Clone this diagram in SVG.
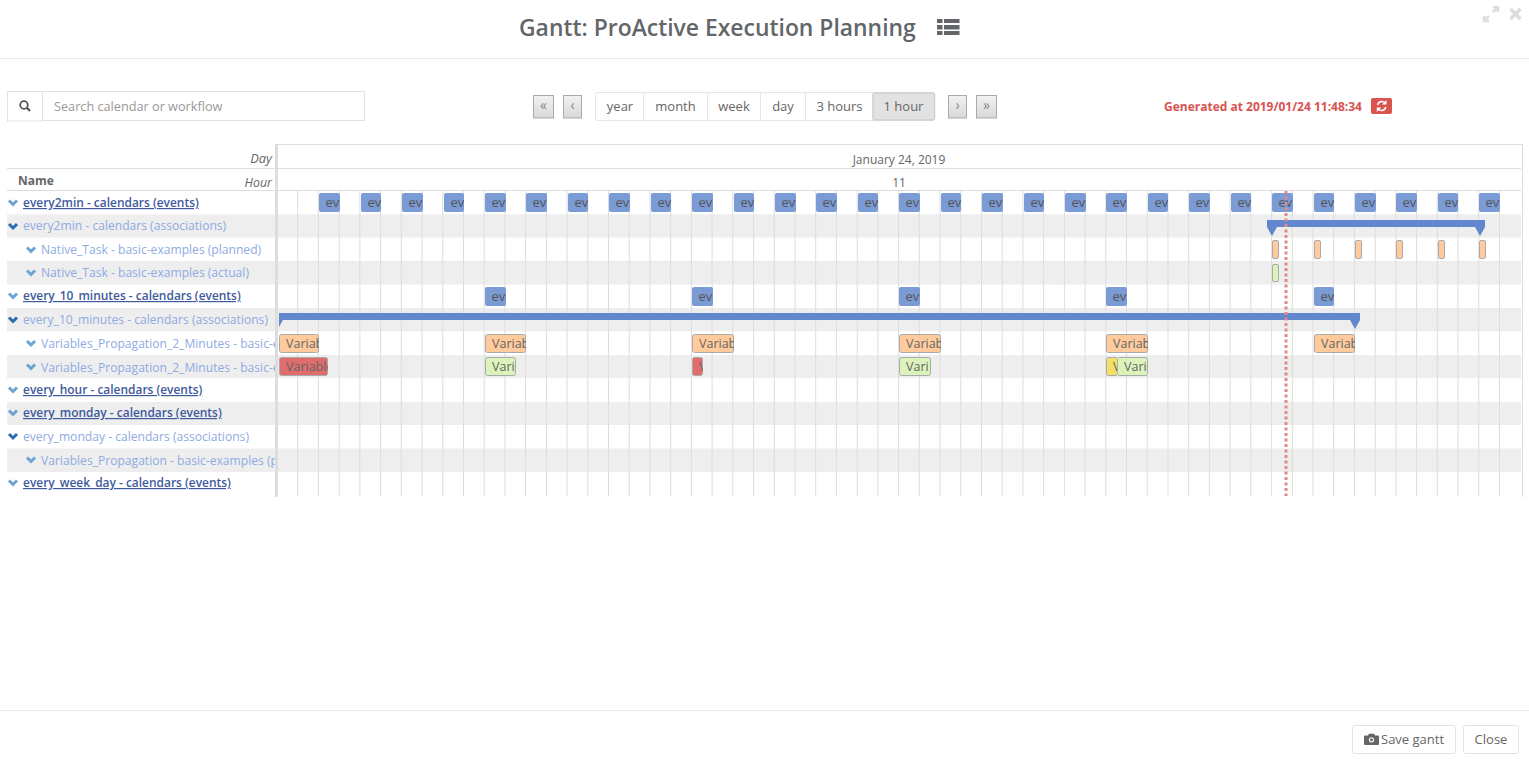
<svg xmlns="http://www.w3.org/2000/svg" width="1529" height="763" viewBox="0 0 1529 763">
<style>
text{font-family:"Open Sans","Noto Sans","Liberation Sans",sans-serif;fill:#666;font-size:13px}
.zebra{fill:#eee}
.grid line{stroke:#ddd;stroke-width:1}
.hl{stroke:#ddd;stroke-width:1;fill:none}
.link{fill:#3e5a9c;font-weight:600;text-decoration:underline;font-size:11.95px}
.assoc{fill:#8fabe3;font-size:12.1px}
.chevL{fill:none;stroke:#6da3d0;stroke-width:3}
.chevD{fill:none;stroke:#2b6cb0;stroke-width:3}
.ev{fill:#7b9bd6}
.evt{fill:#555;font-size:13px}
.bt{font-size:12.5px;fill:#666}
.plan{fill:#ffcb9c;stroke:#aaa;stroke-width:1}
.act{fill:#dbf3ba;stroke:#aaa;stroke-width:1}
.red{fill:#e06c6c;stroke:#aaa;stroke-width:1}
.yel{fill:#f0e064;stroke:#aaa;stroke-width:1}
.sum{fill:#6287cf}
.navb{fill:url(#navg);stroke:#aaa;stroke-width:1}
.navt{fill:#888;font-size:14px;text-anchor:middle}
.seg{fill:#fff;stroke:#e6e6e6;stroke-width:1}
.segt{text-anchor:middle;font-size:13px}
.btn{fill:#fff;stroke:#e2e2e2;stroke-width:1}
</style>
<defs>
<linearGradient id="navg" x1="0" y1="0" x2="0" y2="1"><stop offset="0" stop-color="#f2f2f2"/><stop offset="1" stop-color="#d8d8d8"/></linearGradient>
</defs>
<rect width="1529" height="763" fill="#fff"/>

<g id="header">
<text x="519" y="36" style="font-size:22.9px;font-weight:600;fill:#636669">Gantt: ProActive Execution Planning</text>
<g fill="#636669"><rect x="937" y="19" width="5.500" height="4"/><rect x="944" y="19" width="15.500" height="4"/><rect x="937" y="25" width="5.500" height="4.500"/><rect x="944" y="25" width="15.500" height="4.500"/><rect x="937" y="31" width="5.500" height="4"/><rect x="944" y="31" width="15.500" height="4"/></g>
<path d="M1484 21l5-5M1493 12l5-5M1484 16v5h5M1493 7h5v5" fill="none" stroke="#ddd" stroke-width="2.600"/>
<path d="M1510.500 9l10 10M1520.500 9l-10 10" fill="none" stroke="#ddd" stroke-width="3.600"/>
<line x1="0" y1="58.500" x2="1529" y2="58.500" stroke="#e8e8e8"/>
</g>

<g id="search">
<rect class="btn" x="7.500" y="91.500" width="35" height="29.500"/>
<rect class="btn" x="42.500" y="91.500" width="322" height="29"/>
<circle cx="24" cy="105" r="3.800" fill="none" stroke="#555" stroke-width="1.800"/>
<line x1="26.800" y1="107.800" x2="30" y2="111" stroke="#555" stroke-width="2.200"/>
<text x="54" y="111" style="fill:#999;font-size:12.700px">Search calendar or workflow</text>
</g>

<g id="nav">
<rect class="navb" x="533.500" y="95.500" width="20" height="22.500"/><text class="navt" x="543.500" y="110">«</text>
<rect class="navb" x="563.500" y="95.500" width="18" height="22.500"/><text class="navt" x="572.500" y="110">‹</text>
<rect class="seg" x="595.500" y="92.500" width="339" height="28" rx="2"/>
<rect x="873" y="93" width="61.500" height="27" fill="#e2e2e2" stroke="#d0d0d0" stroke-width="1.500" rx="2"/>
<path d="M643.500 93v27M707.500 93v27M760.500 93v27M805.500 93v27" stroke="#e6e6e6"/>
<text class="segt" x="620" y="111">year</text>
<text class="segt" x="675.500" y="111">month</text>
<text class="segt" x="734" y="111">week</text>
<text class="segt" x="783" y="111">day</text>
<text class="segt" x="839.500" y="111">3 hours</text>
<text class="segt" x="903.500" y="111">1 hour</text>
<rect class="navb" x="948.500" y="95.500" width="18" height="22.500"/><text class="navt" x="957.500" y="110">›</text>
<rect class="navb" x="976.500" y="95.500" width="20" height="22.500"/><text class="navt" x="986.500" y="110">»</text>
</g>

<g id="generated">
<text x="1164" y="111" style="fill:#d9534f;font-weight:700;font-size:12px">Generated at 2019/01/24 11:48:34</text>
<rect x="1371" y="98" width="21" height="16" rx="2" fill="#d9534f"/>
<path d="M1377.500 105a4.300 4.300 0 0 1 7.500-2M1385.800 107a4.300 4.300 0 0 1-7.500 2" fill="none" stroke="#fff" stroke-width="1.600"/>
<path d="M1386.500 100v4.500h-4.500zM1376.800 112v-4.500h4.500z" fill="#fff"/>
</g>

<g id="rows">
<rect class="zebra" x="7" y="214.300" width="1514" height="23.300"/>
<rect class="zebra" x="7" y="261" width="1514" height="23.500"/>
<rect class="zebra" x="7" y="308" width="1514" height="23.300"/>
<rect class="zebra" x="7" y="355" width="1514" height="23"/>
<rect class="zebra" x="7" y="402" width="1514" height="23"/>
<rect class="zebra" x="7" y="448.500" width="1514" height="23.500"/>
</g>

<g id="grid" class="grid">
<line x1="297.700" y1="191" x2="297.700" y2="496"/><line x1="318.400" y1="191" x2="318.400" y2="496"/><line x1="339.200" y1="191" x2="339.200" y2="496"/><line x1="359.900" y1="191" x2="359.900" y2="496"/><line x1="380.600" y1="191" x2="380.600" y2="496"/><line x1="401.300" y1="191" x2="401.300" y2="496"/><line x1="422" y1="191" x2="422" y2="496"/><line x1="442.800" y1="191" x2="442.800" y2="496"/><line x1="463.500" y1="191" x2="463.500" y2="496"/><line x1="484.200" y1="191" x2="484.200" y2="496"/>
<line x1="504.900" y1="191" x2="504.900" y2="496"/><line x1="525.600" y1="191" x2="525.600" y2="496"/><line x1="546.400" y1="191" x2="546.400" y2="496"/><line x1="567.100" y1="191" x2="567.100" y2="496"/><line x1="587.800" y1="191" x2="587.800" y2="496"/><line x1="608.500" y1="191" x2="608.500" y2="496"/><line x1="629.200" y1="191" x2="629.200" y2="496"/><line x1="650" y1="191" x2="650" y2="496"/><line x1="670.700" y1="191" x2="670.700" y2="496"/><line x1="691.400" y1="191" x2="691.400" y2="496"/>
<line x1="712.100" y1="191" x2="712.100" y2="496"/><line x1="732.800" y1="191" x2="732.800" y2="496"/><line x1="753.600" y1="191" x2="753.600" y2="496"/><line x1="774.300" y1="191" x2="774.300" y2="496"/><line x1="795" y1="191" x2="795" y2="496"/><line x1="815.700" y1="191" x2="815.700" y2="496"/><line x1="836.400" y1="191" x2="836.400" y2="496"/><line x1="857.200" y1="191" x2="857.200" y2="496"/><line x1="877.900" y1="191" x2="877.900" y2="496"/><line x1="898.600" y1="191" x2="898.600" y2="496"/>
<line x1="919.300" y1="191" x2="919.300" y2="496"/><line x1="940" y1="191" x2="940" y2="496"/><line x1="960.800" y1="191" x2="960.800" y2="496"/><line x1="981.500" y1="191" x2="981.500" y2="496"/><line x1="1002.200" y1="191" x2="1002.200" y2="496"/><line x1="1022.900" y1="191" x2="1022.900" y2="496"/><line x1="1043.600" y1="191" x2="1043.600" y2="496"/><line x1="1064.400" y1="191" x2="1064.400" y2="496"/><line x1="1085.100" y1="191" x2="1085.100" y2="496"/><line x1="1105.800" y1="191" x2="1105.800" y2="496"/>
<line x1="1126.500" y1="191" x2="1126.500" y2="496"/><line x1="1147.200" y1="191" x2="1147.200" y2="496"/><line x1="1168" y1="191" x2="1168" y2="496"/><line x1="1188.700" y1="191" x2="1188.700" y2="496"/><line x1="1209.400" y1="191" x2="1209.400" y2="496"/><line x1="1230.100" y1="191" x2="1230.100" y2="496"/><line x1="1250.800" y1="191" x2="1250.800" y2="496"/><line x1="1271.600" y1="191" x2="1271.600" y2="496"/><line x1="1292.300" y1="191" x2="1292.300" y2="496"/><line x1="1313" y1="191" x2="1313" y2="496"/>
<line x1="1333.700" y1="191" x2="1333.700" y2="496"/><line x1="1354.400" y1="191" x2="1354.400" y2="496"/><line x1="1375.200" y1="191" x2="1375.200" y2="496"/><line x1="1395.900" y1="191" x2="1395.900" y2="496"/><line x1="1416.600" y1="191" x2="1416.600" y2="496"/><line x1="1437.300" y1="191" x2="1437.300" y2="496"/><line x1="1458" y1="191" x2="1458" y2="496"/><line x1="1478.800" y1="191" x2="1478.800" y2="496"/><line x1="1499.500" y1="191" x2="1499.500" y2="496"/>
</g>

<g id="table-head">
<rect x="275" y="144" width="3" height="353" fill="#ddd"/>
<path class="hl" d="M278 144.500H1522.500V497M278 168.500H1521M7 168.500H275M7 190.500H1521"/>
<text x="272" y="163" text-anchor="end" style="font-style:italic;font-size:12.800px">Day</text>
<text x="272" y="186.500" text-anchor="end" style="font-style:italic;font-size:12.400px">Hour</text>
<text x="18" y="185" style="font-weight:700;font-size:12px">Name</text>
<text x="899" y="163.500" text-anchor="middle" style="font-size:12px">January 24, 2019</text>
<text x="899" y="187" text-anchor="middle" style="font-size:12px">11</text>
</g>

<g id="row-labels">
<path class="chevL" d="M9 200.500l4 4 4-4M9 293.500l4 4 4-4M9 387.500l4 4 4-4M9 410.500l4 4 4-4M9 480.500l4 4 4-4"/>
<path class="chevD" d="M9 224l4 4 4-4M9 317.500l4 4 4-4M9 434l4 4 4-4"/>
<path class="chevL" d="M27 247.500l4 4 4-4M27 270.500l4 4 4-4M27 341l4 4 4-4M27 364.500l4 4 4-4M27 457.500l4 4 4-4"/>
<text class="link" x="23" y="207">every2min - calendars (events)</text>
<text class="assoc" x="23" y="230">every2min - calendars (associations)</text>
<text class="assoc" x="41" y="254">Native_Task - basic-examples (planned)</text>
<text class="assoc" x="41" y="277">Native_Task - basic-examples (actual)</text>
<text class="link" x="23" y="300">every_10_minutes - calendars (events)</text>
<text class="assoc" x="23" y="324">every_10_minutes - calendars (associations)</text>
<svg x="0" y="331" width="275" height="48">
<text class="assoc" x="41" y="17">Variables_Propagation_2_Minutes - basic-e</text>
<text class="assoc" x="41" y="41">Variables_Propagation_2_Minutes - basic-e</text>
</svg>
<text class="link" x="23" y="394">every_hour - calendars (events)</text>
<text class="link" x="23" y="417">every_monday - calendars (events)</text>
<text class="assoc" x="23" y="441">every_monday - calendars (associations)</text>
<svg x="0" y="448" width="275" height="24"><text class="assoc" x="41" y="17">Variables_Propagation - basic-examples (p</text></svg>
<text class="link" x="23" y="487">every_week_day - calendars (events)</text>
</g>

<g id="every2min-events">
<svg x="319" y="193" width="21" height="19"><rect class="ev" width="21" height="19" rx="2"/><text class="evt" x="6.500" y="14">ev</text></svg>
<svg x="361" y="193" width="20" height="19"><rect class="ev" width="20" height="19" rx="2"/><text class="evt" x="6.500" y="14">ev</text></svg>
<svg x="402" y="193" width="21" height="19"><rect class="ev" width="21" height="19" rx="2"/><text class="evt" x="6.500" y="14">ev</text></svg>
<svg x="444" y="193" width="20" height="19"><rect class="ev" width="20" height="19" rx="2"/><text class="evt" x="6.500" y="14">ev</text></svg>
<svg x="485" y="193" width="21" height="19"><rect class="ev" width="21" height="19" rx="2"/><text class="evt" x="6.500" y="14">ev</text></svg>
<svg x="526" y="193" width="21" height="19"><rect class="ev" width="21" height="19" rx="2"/><text class="evt" x="6.500" y="14">ev</text></svg>
<svg x="568" y="193" width="20" height="19"><rect class="ev" width="20" height="19" rx="2"/><text class="evt" x="6.500" y="14">ev</text></svg>
<svg x="609" y="193" width="21" height="19"><rect class="ev" width="21" height="19" rx="2"/><text class="evt" x="6.500" y="14">ev</text></svg>
<svg x="651" y="193" width="20" height="19"><rect class="ev" width="20" height="19" rx="2"/><text class="evt" x="6.500" y="14">ev</text></svg>
<svg x="692" y="193" width="21" height="19"><rect class="ev" width="21" height="19" rx="2"/><text class="evt" x="6.500" y="14">ev</text></svg>
<svg x="734" y="193" width="20" height="19"><rect class="ev" width="20" height="19" rx="2"/><text class="evt" x="6.500" y="14">ev</text></svg>
<svg x="775" y="193" width="21" height="19"><rect class="ev" width="21" height="19" rx="2"/><text class="evt" x="6.500" y="14">ev</text></svg>
<svg x="816" y="193" width="21" height="19"><rect class="ev" width="21" height="19" rx="2"/><text class="evt" x="6.500" y="14">ev</text></svg>
<svg x="858" y="193" width="20" height="19"><rect class="ev" width="20" height="19" rx="2"/><text class="evt" x="6.500" y="14">ev</text></svg>
<svg x="899" y="193" width="21" height="19"><rect class="ev" width="21" height="19" rx="2"/><text class="evt" x="6.500" y="14">ev</text></svg>
<svg x="941" y="193" width="20" height="19"><rect class="ev" width="20" height="19" rx="2"/><text class="evt" x="6.500" y="14">ev</text></svg>
<svg x="982" y="193" width="21" height="19"><rect class="ev" width="21" height="19" rx="2"/><text class="evt" x="6.500" y="14">ev</text></svg>
<svg x="1024" y="193" width="20" height="19"><rect class="ev" width="20" height="19" rx="2"/><text class="evt" x="6.500" y="14">ev</text></svg>
<svg x="1065" y="193" width="21" height="19"><rect class="ev" width="21" height="19" rx="2"/><text class="evt" x="6.500" y="14">ev</text></svg>
<svg x="1106" y="193" width="21" height="19"><rect class="ev" width="21" height="19" rx="2"/><text class="evt" x="6.500" y="14">ev</text></svg>
<svg x="1148" y="193" width="20" height="19"><rect class="ev" width="20" height="19" rx="2"/><text class="evt" x="6.500" y="14">ev</text></svg>
<svg x="1189" y="193" width="21" height="19"><rect class="ev" width="21" height="19" rx="2"/><text class="evt" x="6.500" y="14">ev</text></svg>
<svg x="1231" y="193" width="20" height="19"><rect class="ev" width="20" height="19" rx="2"/><text class="evt" x="6.500" y="14">ev</text></svg>
<svg x="1272" y="193" width="21" height="19"><rect class="ev" width="21" height="19" rx="2"/><text class="evt" x="6.500" y="14">ev</text></svg>
<svg x="1314" y="193" width="20" height="19"><rect class="ev" width="20" height="19" rx="2"/><text class="evt" x="6.500" y="14">ev</text></svg>
<svg x="1355" y="193" width="21" height="19"><rect class="ev" width="21" height="19" rx="2"/><text class="evt" x="6.500" y="14">ev</text></svg>
<svg x="1396" y="193" width="21" height="19"><rect class="ev" width="21" height="19" rx="2"/><text class="evt" x="6.500" y="14">ev</text></svg>
<svg x="1438" y="193" width="20" height="19"><rect class="ev" width="20" height="19" rx="2"/><text class="evt" x="6.500" y="14">ev</text></svg>
<svg x="1479" y="193" width="21" height="19"><rect class="ev" width="21" height="19" rx="2"/><text class="evt" x="6.500" y="14">ev</text></svg>
</g>

<g id="every2min-summary" class="sum">
<path d="M1267 220H1485V227L1480 236 1475 227H1277L1272 236 1267 227Z"/>
</g>

<g id="native-task">
<rect class="plan" x="1272.500" y="240.500" width="6" height="18" rx="1.500"/>
<rect class="plan" x="1314.500" y="240.500" width="6" height="18" rx="1.500"/>
<rect class="plan" x="1355.500" y="240.500" width="6" height="18" rx="1.500"/>
<rect class="plan" x="1396.500" y="240.500" width="6" height="18" rx="1.500"/>
<rect class="plan" x="1438.500" y="240.500" width="6" height="18" rx="1.500"/>
<rect class="plan" x="1479.500" y="240.500" width="6" height="18" rx="1.500"/>
<rect class="act" x="1272.500" y="264.500" width="6" height="17" rx="1.500"/>
</g>

<g id="every10-events">
<svg x="485" y="287" width="21" height="19"><rect class="ev" width="21" height="19" rx="2"/><text class="evt" x="6.500" y="14">ev</text></svg>
<svg x="692" y="287" width="21" height="19"><rect class="ev" width="21" height="19" rx="2"/><text class="evt" x="6.500" y="14">ev</text></svg>
<svg x="899" y="287" width="21" height="19"><rect class="ev" width="21" height="19" rx="2"/><text class="evt" x="6.500" y="14">ev</text></svg>
<svg x="1106" y="287" width="21" height="19"><rect class="ev" width="21" height="19" rx="2"/><text class="evt" x="6.500" y="14">ev</text></svg>
<svg x="1314" y="287" width="20" height="19"><rect class="ev" width="20" height="19" rx="2"/><text class="evt" x="6.500" y="14">ev</text></svg>
</g>

<g id="every10-summary" class="sum">
<path d="M279 313H1360V320L1355 329 1350 320H283L279 327Z"/>
</g>

<g id="variables-planned">
<svg x="279" y="334" width="40" height="19"><rect class="plan" x=".5" y=".5" width="39" height="18" rx="2"/><text class="bt" x="7" y="14">Variab</text></svg>
<svg x="485" y="334" width="41" height="19"><rect class="plan" x=".5" y=".5" width="40" height="18" rx="2"/><text class="bt" x="7" y="14">Variab</text></svg>
<svg x="692" y="334" width="42" height="19"><rect class="plan" x=".5" y=".5" width="41" height="18" rx="2"/><text class="bt" x="7" y="14">Variab</text></svg>
<svg x="899" y="334" width="42" height="19"><rect class="plan" x=".5" y=".5" width="41" height="18" rx="2"/><text class="bt" x="7" y="14">Variab</text></svg>
<svg x="1106" y="334" width="42" height="19"><rect class="plan" x=".5" y=".5" width="41" height="18" rx="2"/><text class="bt" x="7" y="14">Variab</text></svg>
<svg x="1314" y="334" width="41" height="19"><rect class="plan" x=".5" y=".5" width="40" height="18" rx="2"/><text class="bt" x="7" y="14">Variab</text></svg>
</g>

<g id="variables-actual">
<svg x="279" y="357" width="49" height="19"><rect class="red" x=".5" y=".5" width="48" height="18" rx="2"/><text class="bt" x="7" y="14">Variable</text></svg>
<svg x="485" y="357" width="31" height="19"><rect class="act" x=".5" y=".5" width="30" height="18" rx="2"/><text class="bt" x="7" y="14">Vari</text></svg>
<svg x="692" y="357" width="11" height="19"><rect class="red" x=".5" y=".5" width="10" height="18" rx="2"/><text class="bt" x="7" y="14">V</text></svg>
<svg x="899" y="357" width="32" height="19"><rect class="act" x=".5" y=".5" width="31" height="18" rx="2"/><text class="bt" x="7" y="14">Vari</text></svg>
<svg x="1106" y="357" width="11" height="19"><rect class="yel" x=".5" y=".5" width="12" height="18" rx="2"/><text class="bt" x="7" y="14">V</text></svg>
<svg x="1117" y="357" width="31" height="19"><rect class="act" x=".5" y=".5" width="30" height="18" rx="2"/><text class="bt" x="7" y="14">Vari</text></svg>
</g>

<line id="now" x1="1286" y1="191" x2="1286" y2="496" stroke="#e08a8a" stroke-width="3" stroke-dasharray="3 2.500"/>

<g id="footer">
<line x1="0" y1="710.500" x2="1529" y2="710.500" stroke="#e8e8e8"/>
<rect class="btn" x="1352.500" y="725.500" width="103" height="28" rx="2"/>
<path d="M1365 735.500h3l1-1.800h5l1 1.800h3a1 1 0 0 1 1 1v7.500a1 1 0 0 1-1 1h-13a1 1 0 0 1-1-1v-7.500a1 1 0 0 1 1-1z" fill="#666"/>
<circle cx="1371.500" cy="739.800" r="2.600" fill="#fff"/>
<circle cx="1371.500" cy="739.800" r="1.500" fill="#666"/>
<text x="1381" y="744">Save gantt</text>
<rect class="btn" x="1463.500" y="725.500" width="55" height="28" rx="2"/>
<text x="1491" y="744" text-anchor="middle">Close</text>
</g>
</svg>
